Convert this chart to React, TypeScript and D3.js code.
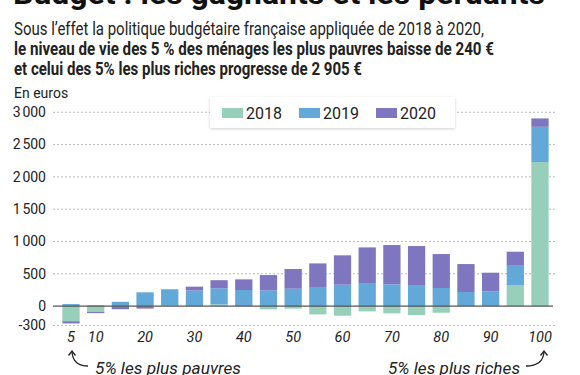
import React from "react";
import * as d3 from "d3";

const categories = [5, 10, 15, 20, 25, 30, 35, 40, 45, 50, 55, 60, 65, 70, 75, 80, 85, 90, 95, 100];
const values2018 = [-235, -90, -5, -5, 5, 0, 25, 0, -52, -40, -130, -150, -83, -113, -140, -104, 0, 0, 325, 2230];
const values2019 = [30, 10, 65, 212, 255, 240, 250, 248, 243, 268, 283, 330, 356, 336, 325, 279, 217, 227, 310, 545];
const values2020 = [-35, -20, -45, -35, 0, 60, 125, 165, 237, 305, 377, 455, 552, 608, 604, 526, 433, 289, 206, 130];
const seriesKeys = ["2018", "2019", "2020"];
const seriesColors = ["#97cfba", "#62a8d8", "#7e77bf"];
const yTicks = [-300, 0, 500, 1000, 1500, 2000, 2500, 3000];
const xTickLabels = [5, 10, 20, 30, 40, 50, 60, 70, 80, 90, 100];

const FONT = "Roboto, 'Liberation Sans', sans-serif";

export default function App() {
  const W = 580, H = 375;
  const rows = categories.map((c, i) => ({
    cat: c,
    "2018": values2018[i],
    "2019": values2019[i],
    "2020": values2020[i],
  }));
  const stack = d3.stack<any>().keys(seriesKeys).offset(d3.stackOffsetDiverging);
  const stacked = stack(rows);

  const x = d3.scaleBand<number>()
    .domain(categories)
    .range([58.66, 552.34])
    .paddingInner(0.3)
    .paddingOuter(0.15);
  const y = d3.scaleLinear().domain([-300, 3000]).range([325.4, 112.3]);
  const gridX0 = 53, gridX1 = 555;
  const fmt = (v: number) => {
    const s = Math.abs(v).toString();
    const t = s.length > 3 ? s.slice(0, s.length - 3) + "\u202F" + s.slice(-3) : s;
    return (v < 0 ? "-" : "") + t;
  };

  return (
    <svg width={W} height={H} style={{ position: "absolute", left: 0, top: 0, background: "#fff" }} fontFamily={FONT}>
      <defs>
        <filter id="sh" x="-10%" y="-30%" width="120%" height="160%">
          <feDropShadow dx="0" dy="1" stdDeviation="1.5" floodColor="#000" floodOpacity="0.18" />
        </filter>
      </defs>
      <rect width={W} height={H} fill="#fff" />
      <text x={13} y={4} fontSize={30} fontWeight="bold" fill="#111" textLength={532} lengthAdjust="spacingAndGlyphs">
        Budget : les gagnants et les perdants
      </text>
      <text x={14} y={35} fontSize={18} fill="#222" textLength={470} lengthAdjust="spacingAndGlyphs">
        Sous l’effet la politique budgétaire française appliquée de 2018 à 2020,
      </text>
      <text x={14} y={55} fontSize={18} fontWeight="bold" fill="#222" textLength={480} lengthAdjust="spacingAndGlyphs">
        le niveau de vie des 5 % des ménages les plus pauvres baisse de 240 €
      </text>
      <text x={14} y={74.5} fontSize={18} fontWeight="bold" fill="#222" textLength={348} lengthAdjust="spacingAndGlyphs">
        et celui des 5% les plus riches progresse de 2 905 €
      </text>
      <text x={14} y={98} fontSize={14} fill="#222">En euros</text>

      {yTicks.map((t) => (
        <g key={t}>
          {t !== 0 && (
            <line x1={gridX0} x2={gridX1} y1={y(t)} y2={y(t)} stroke="#bbb" strokeWidth={1} strokeDasharray="2,2" />
          )}
          <text x={46} y={y(t)} dy="0.35em" textAnchor="end" fontSize={14} fill="#222">
            {fmt(t)}
          </text>
        </g>
      ))}

      {stacked.map((s, si) => (
        <g key={s.key} fill={seriesColors[si]}>
          {s.map((d: any, i: number) => {
            const y0 = y(d[0]), y1 = y(d[1]);
            return (
              <rect key={i} x={x(categories[i])} width={x.bandwidth()} y={Math.min(y0, y1)} height={Math.abs(y0 - y1)} />
            );
          })}
        </g>
      ))}

      <line x1={gridX0} x2={gridX1 - 2} y1={y(0)} y2={y(0)} stroke="#555" strokeWidth={1.2} />

      {xTickLabels.map((c) => (
        <text key={c} x={(x(c) as number) + x.bandwidth() / 2} y={341.5} textAnchor="middle" fontSize={14.5} fontStyle="italic" fill="#222">
          {c}
        </text>
      ))}

      <g filter="url(#sh)">
        <rect x={210} y={97} width={245} height={31} fill="#fff" />
      </g>
      {seriesKeys.map((k, i) => {
        const lx = [222, 299, 376][i];
        return (
          <g key={k}>
            <rect x={lx} y={108} width={21} height={10} fill={seriesColors[i]} />
            <text x={lx + 24} y={118.5} fontSize={16} fill="#222">{k}</text>
          </g>
        );
      })}

      <text x={95} y={374} fontSize={17} fontStyle="italic" fill="#222" textLength={146} lengthAdjust="spacingAndGlyphs">
        5% les plus pauvres
      </text>
      <path d="M88,366 Q73,366 72,352" fill="none" stroke="#222" strokeWidth={1.3} />
      <path d="M68.5,355.5 L72,351 L75.5,355.5" fill="none" stroke="#222" strokeWidth={1.3} />

      <text x={388} y={374} fontSize={17} fontStyle="italic" fill="#222" textLength={132} lengthAdjust="spacingAndGlyphs">
        5% les plus riches
      </text>
      <path d="M526,366 Q543,366 544,352" fill="none" stroke="#222" strokeWidth={1.3} />
      <path d="M540.5,355.5 L544,351 L547.5,355.5" fill="none" stroke="#222" strokeWidth={1.3} />
    </svg>
  );
}
